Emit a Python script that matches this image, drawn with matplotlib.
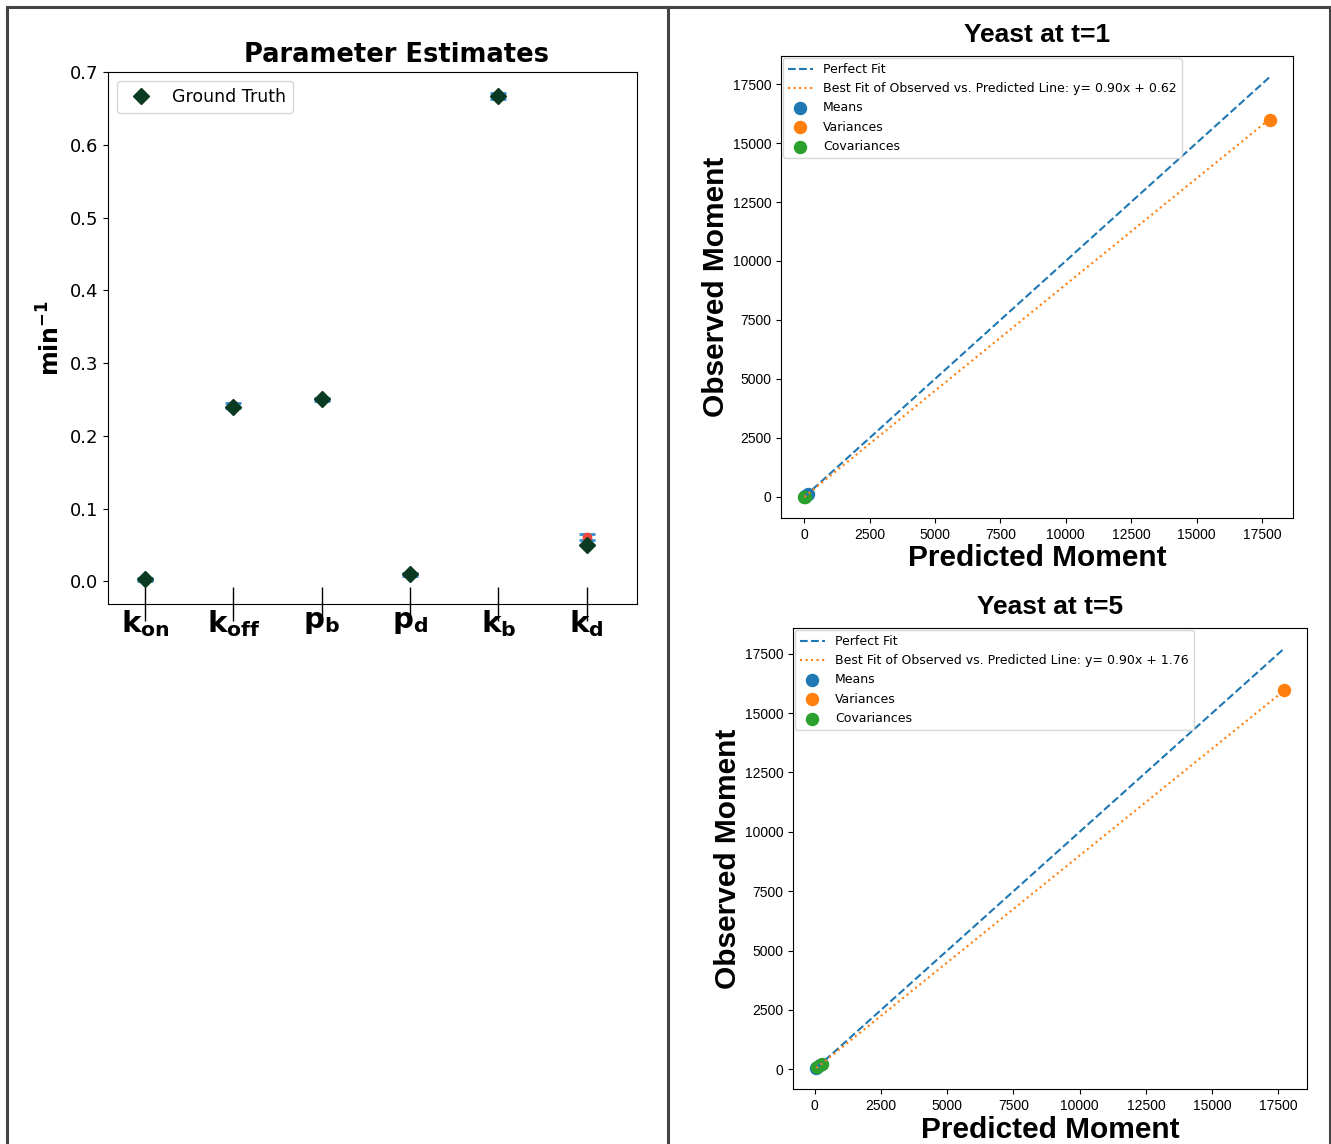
import matplotlib.pyplot as plt
from matplotlib import font_manager
from matplotlib.lines import Line2D

# ---- data ----
param_labels = [r'$\mathbf{k_{on}}$', r'$\mathbf{k_{off}}$', r'$\mathbf{p_b}$',
                r'$\mathbf{p_d}$', r'$\mathbf{k_b}$', r'$\mathbf{k_d}$']
ground_truth = [0.003, 0.24, 0.25, 0.01, 0.667, 0.05]
estimates = [0.003, 0.242, 0.25, 0.01, 0.667, 0.0615]
est_err = [0.002, 0.003, 0.002, 0.002, 0.004, 0.004]

# t=1 moments
t1_means_pred = [40, 130]
t1_means_obs = [35, 120]
t1_var_pred = [17800]
t1_var_obs = [15990]
t1_cov_pred = [0, 15]
t1_cov_obs = [-5, 12]
t1_fit = (0.90, 0.62)

# t=5 moments
t5_means_pred = [60, 200]
t5_means_obs = [55, 190]
t5_var_pred = [17700]
t5_var_obs = [15980]
t5_cov_pred = [90, 260]
t5_cov_obs = [80, 240]
t5_fit = (0.90, 1.76)

# font for the right panels (looks condensed in the reference)
names = {f.name for f in font_manager.fontManager.ttflist}
if 'Liberation Sans Narrow' in names:
    rfont = 'Liberation Sans Narrow'
    title_fs, label_fs = 22, 26
elif 'Liberation Sans' in names:
    rfont = 'Liberation Sans'
    title_fs, label_fs = 19, 21.5
else:
    rfont = 'DejaVu Sans'
    title_fs, label_fs = 16, 18

W, H = 1331, 1144
fig = plt.figure(figsize=(W / 100, H / 100), dpi=100)


def box(x0, y0, x1, y1):
    # pixel box (top-left origin) -> figure fraction rect
    return [x0 / W, 1 - y1 / H, (x1 - x0) / W, (y1 - y0) / H]


# ---- left: parameter estimates ----
ax = fig.add_axes(box(108, 72, 637, 604))
xs = list(range(len(param_labels)))
ax.errorbar(xs, estimates, yerr=est_err, fmt='o', color='#f0453a', markersize=6,
            ecolor='#3a8fd0', elinewidth=1.5, capsize=6, capthick=2, zorder=2)
ax.plot(xs, ground_truth, 'D', color='#0a3a22', markersize=8, linestyle='none',
        label='Ground Truth', zorder=3)
ax.set_xlim(-0.42, 5.57)
ax.set_ylim(-0.031, 0.7)
ax.set_xticks(xs)
ax.set_xticklabels(param_labels, fontsize=21)
ax.tick_params(axis='x', direction='inout', length=24, width=1, pad=-9)
ax.tick_params(axis='y', labelsize=13)
ax.set_ylabel(r'$\mathbf{min^{-1}}$', fontsize=17)
ax.set_title('Parameter Estimates', fontsize=18.5, fontweight='bold', pad=7, x=0.545)
ax.legend(loc='upper left', fontsize=12.5)


def moment_plot(rect, title, mp, mo, vp, vo, cp, co, fit):
    a = fig.add_axes(rect)
    allp = mp + vp + cp
    lo, hi = min(allp), max(allp)
    slope, icpt = fit
    a.plot([lo, hi], [lo, hi], '--', color='C0', label='Perfect Fit')
    a.plot([lo, hi], [slope * lo + icpt, slope * hi + icpt], ':', color='C1',
           label=f'Best Fit of Observed vs. Predicted Line: y= {slope:.2f}x + {icpt:.2f}')
    a.scatter(mp, mo, s=75, color='C0', label='Means')
    a.scatter(vp, vo, s=75, color='C1', label='Variances')
    a.scatter(cp, co, s=75, color='C2', label='Covariances')
    a.set_xticks([0, 2500, 5000, 7500, 10000, 12500, 15000, 17500])
    a.set_yticks([0, 2500, 5000, 7500, 10000, 12500, 15000, 17500])
    for lab in a.get_xticklabels() + a.get_yticklabels():
        lab.set_fontfamily(rfont)
        lab.set_fontsize(10)
    a.set_xlabel('Predicted Moment', fontsize=label_fs, fontweight='bold',
                 family=rfont, labelpad=2)
    a.set_ylabel('Observed Moment', fontsize=label_fs, fontweight='bold',
                 family=rfont, labelpad=2)
    a.set_title(title, fontsize=title_fs, fontweight='bold', family=rfont, pad=10)
    a.legend(loc='upper left', fontsize=9, borderaxespad=0.15)
    return a


moment_plot(box(781, 56, 1293, 518), 'Yeast at t=1',
            t1_means_pred, t1_means_obs, t1_var_pred, t1_var_obs,
            t1_cov_pred, t1_cov_obs, t1_fit)
moment_plot(box(793, 628, 1307, 1089), 'Yeast at t=5',
            t5_means_pred, t5_means_obs, t5_var_pred, t5_var_obs,
            t5_cov_pred, t5_cov_obs, t5_fit)

# ---- panel borders ----
bc = '#444444'
top = 1 - 7 / H
for xx in [7 / W, 668 / W, 1330 / W]:
    fig.add_artist(Line2D([xx, xx], [0, top], color=bc, lw=2.2))
fig.add_artist(Line2D([7 / W, 1330 / W], [top, top], color=bc, lw=2.2))

fig.savefig('out.png', dpi=100)
